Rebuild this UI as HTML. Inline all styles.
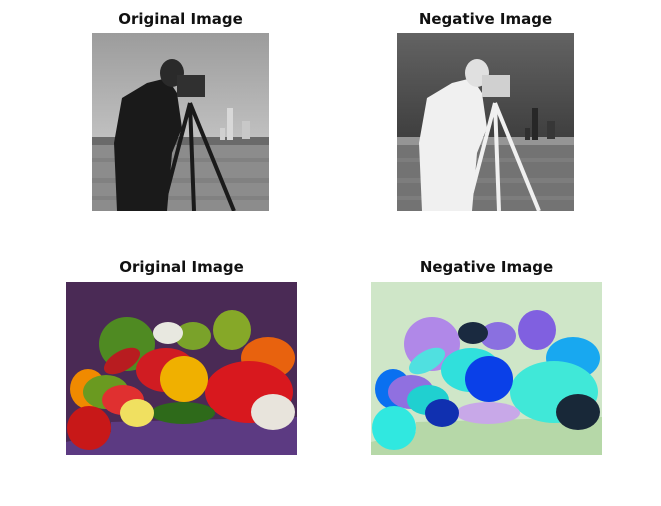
<!DOCTYPE html>
<html><head><meta charset="utf-8"><style>
body{margin:0;background:#fff;width:661px;height:506px;overflow:hidden;font-family:"DejaVu Sans","Liberation Sans",sans-serif}
.t{position:absolute;font-weight:bold;font-size:15px;color:#111;text-align:center;white-space:nowrap}
svg{position:absolute}
</style></head><body>
<div class="t" style="left:92px;width:177px;top:10px">Original Image</div>
<div class="t" style="left:397px;width:177px;top:10px">Negative Image</div>
<div class="t" style="left:66px;width:231px;top:258px">Original Image</div>
<div class="t" style="left:371px;width:231px;top:258px">Negative Image</div>

<svg style="left:92px;top:33px" width="177" height="178" viewBox="0 0 177 178">
<defs><linearGradient id="sk" x1="0" y1="0" x2="0" y2="1"><stop offset="0" stop-color="#9c9c9c"/><stop offset="1" stop-color="#c2c2c2"/></linearGradient></defs>
<rect width="177" height="110" fill="url(#sk)"/>
<rect y="106" width="177" height="72" fill="#8c8c8c"/>
<rect y="104" width="177" height="8" fill="#6a6a6a"/>
<rect x="135" y="75" width="6" height="32" fill="#d8d8d8"/><rect x="150" y="88" width="8" height="18" fill="#c8c8c8"/><rect x="128" y="95" width="5" height="12" fill="#d0d0d0"/>
<g fill="#7a7a7a" opacity=".6"><rect y="125" width="177" height="4"/><rect y="145" width="177" height="5"/><rect y="163" width="177" height="4"/></g>
<path d="M25,178 L22,110 L30,65 L55,50 L75,45 L85,60 L90,95 L80,120 L75,178 Z" fill="#1a1a1a"/>
<ellipse cx="80" cy="40" rx="12" ry="14" fill="#2a2a2a"/>
<rect x="85" y="42" width="28" height="22" fill="#303030"/>
<g stroke="#1a1a1a" stroke-width="4" fill="none"><path d="M98,70 L70,178"/><path d="M98,70 L102,178"/><path d="M98,70 L142,178"/></g>
</svg>

<svg style="left:397px;top:33px" width="177" height="178" viewBox="0 0 177 178">
<defs><linearGradient id="sk2" x1="0" y1="0" x2="0" y2="1"><stop offset="0" stop-color="#636363"/><stop offset="1" stop-color="#3d3d3d"/></linearGradient></defs>
<rect width="177" height="110" fill="url(#sk2)"/>
<rect y="106" width="177" height="72" fill="#737373"/>
<rect y="104" width="177" height="8" fill="#959595"/>
<rect x="135" y="75" width="6" height="32" fill="#272727"/><rect x="150" y="88" width="8" height="18" fill="#373737"/><rect x="128" y="95" width="5" height="12" fill="#2f2f2f"/>
<g fill="#858585" opacity=".6"><rect y="125" width="177" height="4"/><rect y="145" width="177" height="5"/><rect y="163" width="177" height="4"/></g>
<path d="M25,178 L22,110 L30,65 L55,50 L75,45 L85,60 L90,95 L80,120 L75,178 Z" fill="#f0f0f0"/>
<ellipse cx="80" cy="40" rx="12" ry="14" fill="#e0e0e0"/>
<rect x="85" y="42" width="28" height="22" fill="#d0d0d0"/>
<g stroke="#f0f0f0" stroke-width="4" fill="none"><path d="M98,70 L70,178"/><path d="M98,70 L102,178"/><path d="M98,70 L142,178"/></g>
</svg>

<svg style="left:66px;top:282px" width="231" height="173" viewBox="0 0 231 173">
<rect width="231" height="173" fill="#4a2a55"/>
<path d="M45,140 L231,135 L231,173 L0,173 L0,160 L45,150 Z" fill="#5c3a82"/>
<ellipse cx="61" cy="62" rx="28" ry="27" fill="#4f8a22"/>
<ellipse cx="127" cy="54" rx="18" ry="14" fill="#7aa22a"/>
<ellipse cx="166" cy="48" rx="19" ry="20" fill="#86a828"/>
<ellipse cx="202" cy="76" rx="27" ry="21" fill="#e8620e"/>
<ellipse cx="102" cy="51" rx="15" ry="11" fill="#e8e8e0"/>
<ellipse cx="56" cy="79" rx="20" ry="10" fill="#b81c20" transform="rotate(-30 56 79)"/>
<ellipse cx="100" cy="88" rx="30" ry="22" fill="#d01c22"/>
<ellipse cx="183" cy="110" rx="44" ry="31" fill="#d8181e"/>
<ellipse cx="118" cy="97" rx="24" ry="23" fill="#f0b000"/>
<ellipse cx="22" cy="107" rx="18" ry="20" fill="#f08a00"/>
<ellipse cx="40" cy="110" rx="23" ry="17" fill="#6a9a20"/>
<ellipse cx="57" cy="118" rx="21" ry="15" fill="#e03030"/>
<ellipse cx="23" cy="146" rx="22" ry="22" fill="#c81818"/>
<ellipse cx="117" cy="131" rx="32" ry="11" fill="#2e6a1a"/>
<ellipse cx="71" cy="131" rx="17" ry="14" fill="#f0e060"/>
<ellipse cx="207" cy="130" rx="22" ry="18" fill="#e8e4dc"/>
</svg>

<svg style="left:371px;top:282px" width="231" height="173" viewBox="0 0 231 173">
<rect width="231" height="173" fill="#cfe6c8"/>
<path d="M45,140 L231,135 L231,173 L0,173 L0,160 L45,150 Z" fill="#b6d8a8"/>
<ellipse cx="61" cy="62" rx="28" ry="27" fill="#b088e8"/>
<ellipse cx="127" cy="54" rx="18" ry="14" fill="#8a70e0"/>
<ellipse cx="166" cy="48" rx="19" ry="20" fill="#8060e0"/>
<ellipse cx="202" cy="76" rx="27" ry="21" fill="#18a8f0"/>
<ellipse cx="102" cy="51" rx="15" ry="11" fill="#1a2a40"/>
<ellipse cx="56" cy="79" rx="20" ry="10" fill="#50e0e0" transform="rotate(-30 56 79)"/>
<ellipse cx="100" cy="88" rx="30" ry="22" fill="#30e0dc"/>
<ellipse cx="183" cy="110" rx="44" ry="31" fill="#40e8d8"/>
<ellipse cx="118" cy="97" rx="24" ry="23" fill="#0a40e8"/>
<ellipse cx="22" cy="107" rx="18" ry="20" fill="#0a70f0"/>
<ellipse cx="40" cy="110" rx="23" ry="17" fill="#9070e0"/>
<ellipse cx="57" cy="118" rx="21" ry="15" fill="#20d0d0"/>
<ellipse cx="23" cy="146" rx="22" ry="22" fill="#30e8e0"/>
<ellipse cx="117" cy="131" rx="32" ry="11" fill="#c8a8e8"/>
<ellipse cx="71" cy="131" rx="17" ry="14" fill="#1030b0"/>
<ellipse cx="207" cy="130" rx="22" ry="18" fill="#182838"/>
</svg>
</body></html>
